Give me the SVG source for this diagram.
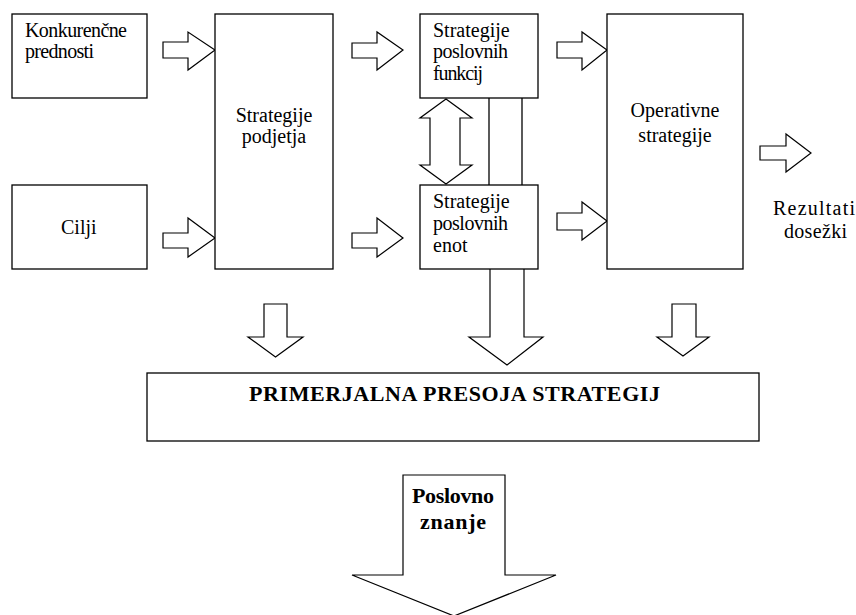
<svg xmlns="http://www.w3.org/2000/svg" width="856" height="615" viewBox="0 0 856 615">
<style>
.box{fill:#fff;stroke:#000;stroke-width:1.3}
.arr{fill:#fff;stroke:#000;stroke-width:1.2;stroke-linejoin:miter}
text{font-family:'Liberation Serif','Times New Roman',serif;font-size:20px;fill:#000}
.c{text-anchor:middle}
.b{font-weight:bold;font-size:22px}
</style>
<rect width="856" height="615" fill="#fff"/>
<g id="connectors">
<polygon class="arr" points="163,42 188,42 188,32 215,50 188,70 188,58 163,58"/>
<polygon class="arr" points="163,233 188,233 188,218 215,238 188,257 188,248 163,248"/>
<polygon class="arr" points="352,43 377,43 377,32 403,50 377,70 377,58 352,58"/>
<polygon class="arr" points="352,233 377,233 377,218 403,238 377,257 377,248 352,248"/>
<polygon class="arr" points="557,42 582,42 582,32 607,50 582,70 582,58 557,58"/>
<polygon class="arr" points="557,213 582,213 582,202 607,221 582,240 582,230 557,230"/>
<polygon class="arr" points="760,146 786,146 786,134 811,153 786,172 786,160 760,160"/>
<polygon class="arr" points="446,99 472,118 460,118 460,165 472,165 446,184 420,165 430,165 430,118 420,118"/>
<line x1="489" y1="98" x2="489" y2="185" stroke="#000" stroke-width="1.3"/>
<line x1="522" y1="98" x2="522" y2="185" stroke="#000" stroke-width="1.3"/>
<polygon class="arr" points="264,304 287,304 287,337 303,337 275.5,357 248,337 264,337"/>
<path class="arr" d="M490,269 L490,337 L469,337 L507,365 L543,337 L524,337 L524,269"/>
<polygon class="arr" points="672,304 696,304 696,337 709,337 683,356 657,337 672,337"/>
<polygon class="arr" points="403,475 505,475 505,575 556,575 454,616 352,575 403,575"/>
</g>
<g id="konkurencne">
<rect class="box" x="12" y="14" width="135" height="84"/>
<text x="25" y="37" textLength="102">Konkurenčne</text>
<text x="25" y="58" textLength="69">prednosti</text>
</g>
<g id="cilji">
<rect class="box" x="12" y="185" width="135" height="84"/>
<text x="61" y="234">Cilji</text>
</g>
<g id="podjetja">
<rect class="box" x="215" y="14" width="118" height="255"/>
<text class="c" x="274" y="122">Strategije</text>
<text class="c" x="274" y="143">podjetja</text>
</g>
<g id="funkcij">
<rect class="box" x="420" y="14" width="118" height="84"/>
<text x="433" y="37">Strategije</text>
<text x="433" y="58" textLength="75">poslovnih</text>
<text x="433" y="80" textLength="50">funkcij</text>
</g>
<g id="enot">
<rect class="box" x="420" y="185" width="118" height="84"/>
<text x="433" y="208">Strategije</text>
<text x="433" y="230" textLength="75">poslovnih</text>
<text x="433" y="252">enot</text>
</g>
<g id="operativne">
<rect class="box" x="607" y="14" width="136" height="255"/>
<text class="c" x="675" y="117">Operativne</text>
<text class="c" x="675" y="142">strategije</text>
</g>
<g id="rezultati">
<text x="773" y="215" textLength="82">Rezultati</text>
<text x="784" y="238" textLength="63">dosežki</text>
</g>
<g id="presoja">
<rect class="box" x="147" y="373" width="612" height="68"/>
<text class="b" x="249" y="401" textLength="411">PRIMERJALNA PRESOJA STRATEGIJ</text>
</g>
<g id="znanje">
<text class="b" x="412" y="503" textLength="82">Poslovno</text>
<text class="b" x="420" y="529" textLength="66">znanje</text>
</g>
</svg>
